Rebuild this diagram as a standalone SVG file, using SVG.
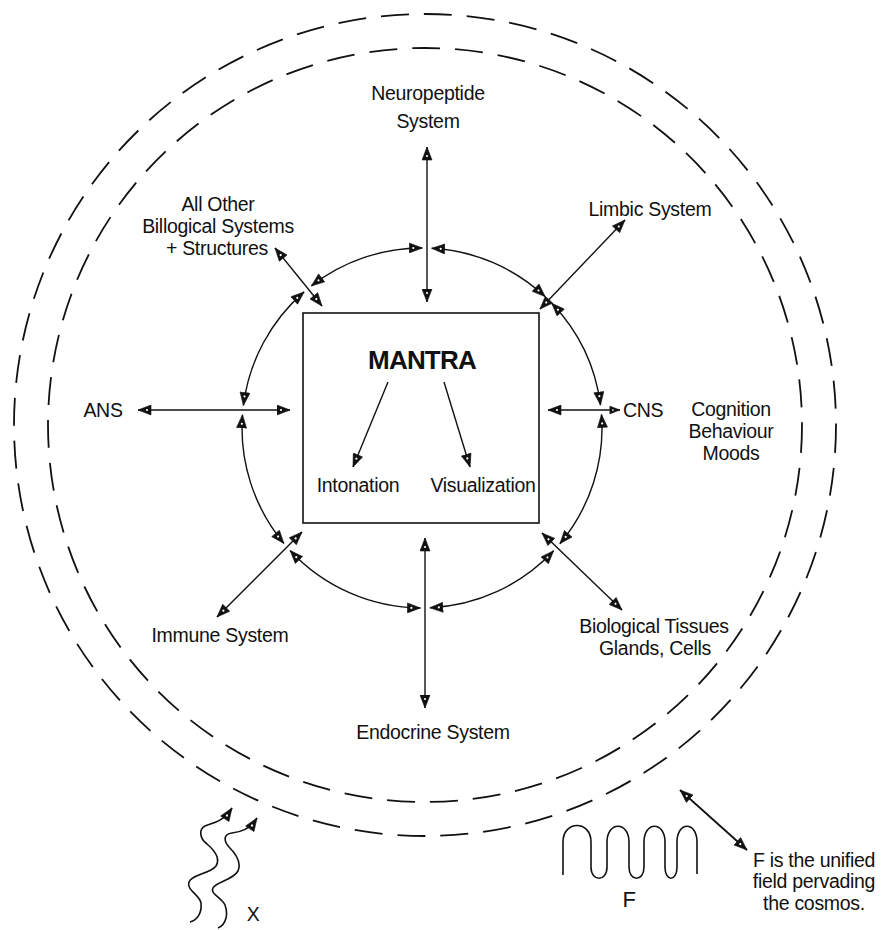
<svg xmlns="http://www.w3.org/2000/svg" width="883" height="930" viewBox="0 0 883 930">
<style>
text{font-family:"Liberation Sans",Arial,sans-serif;fill:#111;font-size:19.5px;letter-spacing:-0.3px}
.c{text-anchor:middle}
.ln{fill:none;stroke:#111;stroke-width:1.4}
.dash{fill:none;stroke:#111;stroke-width:1.8;stroke-dasharray:28 15}
.a2{marker-start:url(#ah);marker-end:url(#ah)}
.a1{marker-end:url(#ah)}
</style>
<defs>
<marker id="ah" viewBox="0 0 14 11" refX="13.5" refY="5.5" markerWidth="14" markerHeight="11" markerUnits="userSpaceOnUse" orient="auto-start-reverse">
<path d="M0.5,0.5 L13.5,5.5 L0.5,10.5 z" fill="#111" stroke="#111" stroke-width="0.6"/>
<circle cx="4.5" cy="5.5" r="1.1" fill="#fff"/>
</marker>
<marker id="as" viewBox="0 0 14 11" refX="13.5" refY="5.5" markerWidth="11" markerHeight="9" markerUnits="userSpaceOnUse" orient="auto-start-reverse">
<path d="M0.5,0.5 L13.5,5.5 L0.5,10.5 z" fill="#111" stroke="#111" stroke-width="0.6"/>
<circle cx="4.5" cy="5.5" r="1.1" fill="#fff"/>
</marker>
</defs>
<rect width="883" height="930" fill="#fff"/>

<g id="field">
<circle class="dash" cx="425" cy="425" r="411"/>
<circle class="dash" cx="425" cy="425" r="377"/>
</g>

<g id="connectors">
<path class="ln a2" d="M601.5,414.5 A180,180 0 0 1 559.9,543.7"/>
<path class="ln a2" d="M553.6,550.8 A180,180 0 0 1 429.9,607.8"/>
<path class="ln a2" d="M420.4,608 A180,180 0 0 1 290.1,550.5"/>
<path class="ln a2" d="M283.9,543.4 A180,180 0 0 1 242.5,414.8"/>
<path class="ln a2" d="M243.4,405.4 A180,180 0 0 1 304.1,291.9"/>
<path class="ln a2" d="M311.4,285.9 A180,180 0 0 1 422.3,248"/>
<path class="ln a2" d="M431.7,248.3 A180,180 0 0 1 545.1,296.6"/>
<path class="ln a2" d="M551.7,303.2 A180,180 0 0 1 600.5,405.1"/>
<path class="ln a2" d="M427,147 L427,302"/>
<path class="ln a2" d="M138,410 L290,410"/>
<path class="ln" d="M548,410 L620,410" marker-start="url(#ah)" marker-end="url(#as)"/>
<path class="ln a2" d="M425,538 L425,708"/>
<path class="ln a2" d="M275,248 L322,306"/>
<path class="ln a2" d="M625,220 L540,309"/>
<path class="ln a2" d="M217,617 L302,532"/>
<path class="ln a2" d="M542,533 L622,610"/>
<path class="ln a1" d="M388,382 L353,467"/>
<path class="ln a1" d="M444,382 L470,467"/>
<path class="ln a2" d="M680,790 L747,850" style="stroke-width:1.8"/>
<path class="ln a1" style="stroke-width:1.6" d="M190,922 C198,920 202,912 201,903 C200,895 186,890 189,882 C192,874 210,874 216,866 C221,858 214,850 207,844 C199,838 199,829 205,826 C212,823 222,823 232,808"/>
<path class="ln a1" style="stroke-width:1.6" d="M218,928 C227,924 228,913 225,905 C222,898 210,894 213,888 C216,882 233,880 238,871 C242,862 235,853 229,847 C223,840 224,834 232,833 C240,832 249,830 257,818"/>
<path class="ln" style="stroke-width:1.6" d="M563,875 L563,842 C563,820 591,820 591,842 L591,867 C591,882 607,882 607,867 L607,842 C607,821 629,821 629,842 L629,867 C629,882 644,882 644,867 L644,842 C644,821 665,821 665,842 L665,867 C665,882 677,882 677,867 L677,842 C677,821 697,821 697,842 L697,874"/>
</g>

<g id="mantra">
<rect x="303" y="313" width="236" height="210" fill="none" stroke="#111" stroke-width="1.6"/>
<text x="422" y="369" class="c" style="font-size:26px;font-weight:bold;letter-spacing:-0.8px">MANTRA</text>
</g>
<g id="intonation"><text x="358" y="492" class="c">Intonation</text></g>
<g id="visualization"><text x="483" y="492" class="c">Visualization</text></g>
<g id="neuropeptide"><text x="428" y="100" class="c">Neuropeptide</text><text x="428" y="128" class="c">System</text></g>
<g id="other"><text x="218" y="211" class="c">All Other</text><text x="218" y="233" class="c">Billogical Systems</text><text x="217" y="255" class="c">+ Structures</text></g>
<g id="limbic"><text x="650" y="216" class="c">Limbic System</text></g>
<g id="ans"><text x="103" y="417" class="c">ANS</text></g>
<g id="cns"><text x="623" y="417">CNS</text></g>
<g id="cognition"><text x="731" y="416" class="c">Cognition</text><text x="731" y="438" class="c">Behaviour</text><text x="731" y="460" class="c">Moods</text></g>
<g id="immune"><text x="220" y="642" class="c">Immune System</text></g>
<g id="endocrine"><text x="433" y="739" class="c">Endocrine System</text></g>
<g id="tissues"><text x="654" y="633" class="c">Biological Tissues</text><text x="655" y="655" class="c">Glands, Cells</text></g>
<g id="x-label"><text x="253" y="921" class="c">X</text></g>
<g id="f-label"><text x="629" y="907" class="c" style="font-size:22px">F</text></g>
<g id="f-note"><text x="814" y="867" class="c">F is the unified</text><text x="814" y="888" class="c">field pervading</text><text x="814" y="910" class="c">the cosmos.</text></g>
</svg>
